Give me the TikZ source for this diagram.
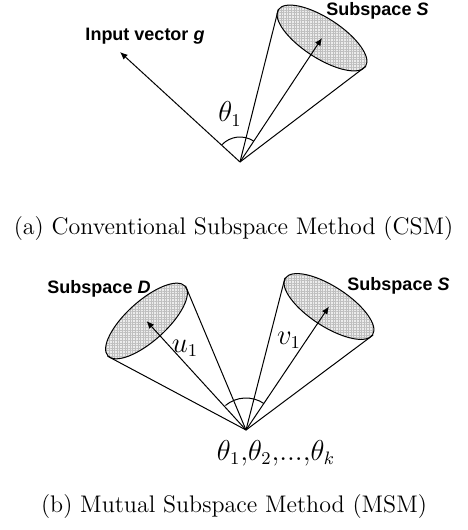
\documentclass[tikz,border=0pt]{standalone}
\usepackage{fontspec}
\newfontfamily\labelfont{Liberation Sans}
\usetikzlibrary{arrows.meta,shapes.geometric,patterns.meta}

\begin{document}
\begin{tikzpicture}[x=0.5pt,y=0.5pt,>={Latex[length=3.8pt,width=3.2pt]},line width=0.5pt]
\tikzstyle{subsp}=[draw,ellipse,minimum width=52pt,minimum height=20pt,inner sep=0pt,preaction={fill=gray!15},pattern={Hatch[distance=1.3pt,line width=0.15pt]},pattern color=gray!50]
\tikzstyle{tag}=[font=\labelfont\fontsize{9}{10}\selectfont\bfseries,anchor=base]
\tikzstyle{sym}=[font=\fontsize{13.5}{15}\selectfont]
\tikzstyle{caption}=[font=\fontsize{12}{14}\selectfont]
\useasboundingbox (0,0) rectangle (467,530);
% (a) conventional subspace method
\coordinate (oa) at (240,368);
\coordinate (g) at (120,478);
\node[subsp,rotate=-33] (sa) at (322,492) {};
\draw (oa) -- (sa.west);
\draw (oa) -- (sa.east);
\draw[->] (oa) -- (sa.center);
\draw[->] (oa) -- (g);
\draw (oa) ++(137:25) arc[start angle=137,end angle=57,radius=25];
\node[tag] (glbl) at (145,489) {Input vector \textit{g}};
\node[tag] (salbl) at (377.5,514) {Subspace \textit{S}};
\node[sym] (th1) at (230,416) {\(\theta_1\)};
\node[caption] (capa) at (233.5,301.5) {(a) Conventional Subspace Method (CSM)};
% (b) mutual subspace method
\coordinate (ob) at (246,100);
\node[subsp,rotate=42] (d) at (146.5,209) {};
\node[subsp,rotate=-33] (sb) at (329,223.5) {};
\draw (ob) -- (d.west);
\draw (ob) -- (d.east);
\draw (ob) -- (sb.west);
\draw (ob) -- (sb.east);
\draw[->] (ob) -- (d.center);
\draw[->] (ob) -- (sb.center);
\draw (ob) ++(130:32) arc[start angle=130,end angle=56,radius=32];
\node[tag] (dlbl) at (99,236) {Subspace \textit{D}};
\node[tag] (sblbl) at (398.5,239) {Subspace \textit{S}};
\node[sym] (u1) at (185,182) {\(u_1\)};
\node[sym] (v1) at (289,190) {\(v_1\)};
\node[sym] (thk) at (276,77) {\(\theta_1{,}\theta_2{,}...{,}\theta_k\)};
\node[caption] (capb) at (234,23.5) {(b) Mutual Subspace Method (MSM)};
\end{tikzpicture}
\end{document}
